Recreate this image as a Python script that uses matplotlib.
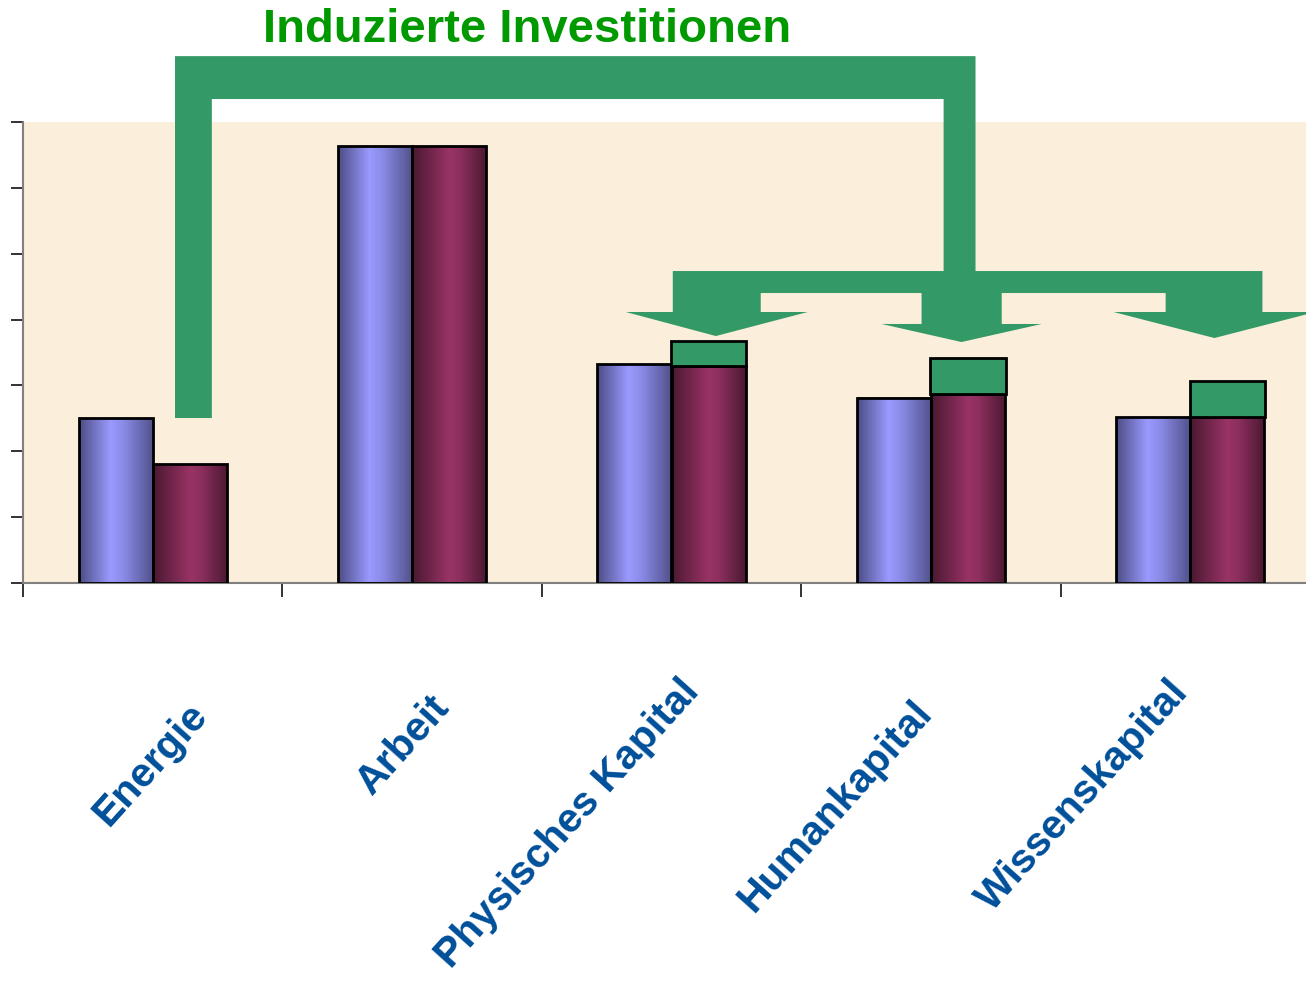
import numpy as np
import matplotlib
matplotlib.use("Agg")
import matplotlib.pyplot as plt
from matplotlib.patches import Polygon
from matplotlib.colors import LinearSegmentedColormap

# ---- data ----
categories = ["Energie", "Arbeit", "Physisches Kapital", "Humankapital", "Wissenskapital"]
before = [2.5, 6.63, 3.32, 2.81, 2.52]
after = [1.8, 6.63, 3.29, 2.87, 2.52]
with_induced = [np.nan, np.nan, 3.67, 3.42, 3.07]
title = "Induzierte Investitionen"

W, H = 1306, 984
fig = plt.figure(figsize=(W / 100, H / 100), dpi=100)
fig.patch.set_facecolor("white")

ax_left, ax_right, ax_top, ax_bottom = 23, 1306, 122, 583
ax = fig.add_axes([ax_left / W, (H - ax_bottom) / H, (ax_right - ax_left) / W, (ax_bottom - ax_top) / H])
ax.set_facecolor("#FBEEDA")

x = np.arange(len(categories))
bw = 0.286

blue_cmap = LinearSegmentedColormap.from_list("b", [(0, "#4C4C85"), (0.42, "#9A9AFF"), (0.6, "#8A8AE6"), (1, "#50508A")])
red_cmap = LinearSegmentedColormap.from_list("r", [(0, "#4A1830"), (0.5, "#993366"), (0.65, "#8C2F5E"), (1, "#4A1830")])
grad = np.linspace(0, 1, 256).reshape(1, -1)

b1 = ax.bar(x - bw / 2, before, width=bw, facecolor="none", edgecolor="black", linewidth=2, zorder=3)
b2 = ax.bar(x + bw / 2, after, width=bw, facecolor="none", edgecolor="black", linewidth=2, zorder=3)
for bars, cm in ((b1, blue_cmap), (b2, red_cmap)):
    for r in bars:
        x0, w, h = r.get_x(), r.get_width(), r.get_height()
        ax.imshow(grad, extent=[x0, x0 + w, 0, h], cmap=cm, aspect="auto", zorder=2, interpolation="bilinear")

ind = np.array(with_induced)
aft = np.array(after)
mask = ~np.isnan(ind)
ax.bar((x + bw / 2)[mask], (ind - aft)[mask], bottom=aft[mask], width=bw * 1.02,
       color="#339966", edgecolor="black", linewidth=2, zorder=3)

ax.set_xlim(-0.5, -0.5 + (ax_right - ax_left) / 259.4)
ax.set_ylim(0, 7)

# big connector arrow (in data units, extends outside the axes)
arrow_pts = [
    (0.086, 2.505), (0.086, 8.0), (3.172, 8.0), (3.172, 4.737), (4.278, 4.737),
    (4.278, 4.115), (4.483, 4.115), (4.093, 3.72), (3.704, 4.115), (3.905, 4.115),
    (3.905, 4.403), (3.273, 4.403), (3.273, 3.933), (3.427, 3.933), (3.118, 3.659),
    (2.810, 3.933), (2.964, 3.933), (2.964, 4.403), (2.344, 4.403), (2.344, 4.115),
    (2.525, 4.115), (2.171, 3.75), (1.824, 4.115), (2.005, 4.115), (2.005, 4.737),
    (3.049, 4.737), (3.049, 7.349), (0.228, 7.349), (0.228, 2.505),
]
ax.add_patch(Polygon(arrow_pts, closed=True, facecolor="#339966", edgecolor="none",
                     clip_on=False, zorder=4))

# axes styling
for s in ("top", "right"):
    ax.spines[s].set_visible(False)
for s in ("left", "bottom"):
    ax.spines[s].set_color("#808080")
    ax.spines[s].set_linewidth(1.5)
ax.set_yticks(np.arange(0, 8))
ax.set_yticklabels([])
ax.set_xticks(np.arange(len(categories)) - 0.5)
ax.set_xticklabels([])
ax.tick_params(axis="y", direction="out", length=8.5, width=1.3, color="#222222")
ax.tick_params(axis="x", direction="out", length=10, width=1.3, color="#222222")

# category labels (rotated), bbox centres placed under each category
label_centres = [(150, 765), (403, 745), (568, 824), (835, 806), (1083, 795)]
for lab, (px, py) in zip(categories, label_centres):
    fig.text(px / W, 1 - py / H, lab, rotation=48, ha="center", va="center",
             fontsize=29.5, fontweight="bold", color="#004F9A", family="Liberation Sans")

fig.text(527 / W, 1 - 30 / H, title, ha="center", va="center", fontsize=34,
         fontweight="bold", color="#009900", family="Liberation Sans")

fig.savefig("out.png", dpi=100)
